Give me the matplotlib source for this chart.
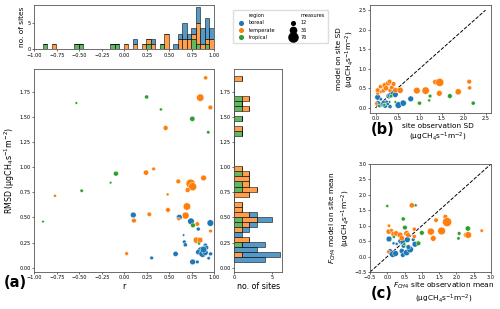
import numpy as np
import matplotlib
matplotlib.use("Agg")
import matplotlib.pyplot as plt
from matplotlib.lines import Line2D

regions = ["boreal", "temperate", "tropical"]
colors = {"boreal": "#1f77b4", "temperate": "#ff7f0e", "tropical": "#2ca02c"}
legend_measures = [12, 36, 76]

# (a) per site correlation r and RMSD
a_r = {
    "boreal": [0.100, 0.611, 0.741, 0.956, 0.822, 0.659, 0.667, 0.678, 0.900, 0.911, 0.859,
               0.822, 0.870, 0.900, 0.959, 0.570, 0.304, 0.937, 0.759, 0.811, 0.880],
    "temperate": [0.904, 0.844, 0.956, 0.459, 0.326, 0.241, 0.881, 0.600, 0.737, 0.759, 0.704,
                  0.481, -0.770, 0.696, 0.485, 0.278, 0.681, 0.107, 0.811, 0.604, 0.959,
                  0.800, 0.841, 0.026],
    "tropical": [0.248, 0.407, 0.756, 0.933, -0.533, -0.093, -0.152, -0.474, -0.904, 0.763, 0.830],
}
a_rmsd = {
    "boreal": [0.524, 0.501, 0.461, 0.444, 0.384, 0.324, 0.257, 0.227, 0.224, 0.200, 0.164,
               0.154, 0.140, 0.150, 0.137, 0.137, 0.097, 0.094, 0.057, 0.057, 0.180],
    "temperate": [1.887, 1.690, 1.593, 1.389, 0.982, 0.945, 0.892, 0.858, 0.835, 0.805, 0.772,
                  0.728, 0.715, 0.608, 0.574, 0.531, 0.518, 0.468, 0.434, 0.484, 0.364,
                  0.274, 0.274, 0.140],
    "tropical": [1.697, 1.573, 1.480, 1.346, 1.637, 0.935, 0.845, 0.765, 0.458, 0.421, 0.240],
}
a_measures = {
    "boreal": [30, 30, 40, 40, 14, 5, 12, 15, 15, 20, 76, 25, 50, 30, 14, 25, 12, 10, 30, 12, 40],
    "temperate": [15, 50, 20, 22, 12, 25, 30, 20, 76, 60, 22, 8, 8, 50, 20, 18, 45, 20, 18, 10,
                  12, 35, 30, 12],
    "tropical": [15, 8, 25, 10, 6, 22, 6, 10, 6, 20, 8],
}

# (b) site SD, observation vs model
b_obs = {
    "boreal": [0.05, 0.05, 0.12, 0.15, 0.22, 0.25, 0.30, 0.34, 0.38, 0.42, 0.45, 0.33, 0.52,
               0.63, 0.80, 0.18, 0.10, 0.28],
    "temperate": [0.02, 0.05, 0.05, 0.11, 0.12, 0.18, 0.22, 0.24, 0.29, 0.33, 0.32, 0.37, 0.41,
                  0.45, 0.56, 0.94, 1.14, 1.36, 1.46, 1.45, 1.88, 2.13, 2.14],
    "tropical": [0.08, 0.20, 0.35, 0.32, 0.45, 1.00, 1.24, 1.22, 1.69, 2.22],
}
b_mod = {
    "boreal": [0.27, 0.11, 0.22, 0.08, 0.05, 0.15, 0.30, 0.32, 0.36, 0.37, 0.34, 0.03, 0.07,
               0.12, 0.23, 0.15, 0.05, 0.10],
    "temperate": [0.11, 0.37, 0.45, 0.54, 0.41, 0.44, 0.57, 0.50, 0.63, 0.45, 0.67, 0.52, 0.61,
                  0.45, 0.45, 0.44, 0.44, 0.66, 0.65, 0.37, 0.41, 0.67, 0.51],
    "tropical": [0.05, 0.08, 0.30, 0.15, 0.15, 0.12, 0.30, 0.19, 0.30, 0.12],
}
b_measures = {
    "boreal": [30, 30, 10, 15, 20, 12, 25, 30, 40, 45, 30, 15, 40, 35, 30, 10, 12, 10],
    "temperate": [10, 12, 20, 15, 10, 20, 35, 25, 25, 15, 20, 20, 20, 25, 35, 40, 50, 25, 60,
                  30, 35, 20, 15],
    "tropical": [8, 8, 10, 6, 6, 15, 12, 8, 20, 15],
}

# (c) site mean, observation vs model
c_obs = {
    "boreal": [0.05, 0.18, 0.27, 0.39, 0.45, 0.58, 0.75, 0.08, 0.16, 0.24, 0.42, 0.45, 0.56,
               0.66, 0.47, 0.61, 0.80],
    "temperate": [0.05, 0.04, 0.12, 0.19, 0.26, 0.37, 0.42, 0.56, 0.60, 0.71, 0.78, 0.78, 0.03,
                  1.26, 1.33, 1.57, 1.41, 1.68, 1.73, 2.27, 2.34, 2.73],
    "tropical": [0.00, 0.82, 0.46, 0.51, 1.00, 0.19, 0.49, 0.90, 2.06, 2.08, 2.33],
}
c_mod = {
    "boreal": [0.57, 0.43, 0.41, 0.50, 0.48, 0.55, 0.55, 0.16, 0.08, 0.10, 0.18, 0.05, 0.13,
               0.23, 0.35, 0.31, 0.40],
    "temperate": [1.00, 0.81, 0.85, 0.73, 0.75, 0.70, 0.60, 0.75, 0.70, 1.66, 0.89, 0.65, 0.16,
                  0.81, 0.59, 0.83, 1.18, 1.29, 1.12, 0.70, 0.70, 0.84],
    "tropical": [1.64, 1.66, 1.22, 0.94, 0.77, 0.64, 0.40, 0.43, 0.59, 0.75, 0.91],
}
c_measures = {
    "boreal": [30, 8, 8, 30, 30, 30, 12, 30, 40, 30, 25, 20, 35, 40, 20, 20, 30],
    "temperate": [10, 25, 12, 30, 25, 30, 25, 30, 20, 25, 15, 15, 10, 45, 30, 55, 18, 20, 76,
                  20, 40, 10],
    "tropical": [8, 8, 15, 20, 20, 8, 8, 20, 10, 12, 25],
}

unit = "(µgCH$_4$s$^{-1}$m$^{-2}$)"
tick_fs = 3.6
label_fs = 5.7


def msize(m):
    return 3 + (np.asarray(m) - 5) / (76 - 5) * 40


def style(ax):
    ax.tick_params(labelsize=tick_fs, length=1.5, width=0.4, pad=1)
    for sp in ax.spines.values():
        sp.set_linewidth(0.6)
        sp.set_color("#555555")


def scatter(ax, xs, ys, ms):
    for reg in regions:
        ax.scatter(xs[reg], ys[reg], s=msize(ms[reg]), color=colors[reg],
                   edgecolor="white", linewidth=0.3, zorder=3)


fig = plt.figure(figsize=(5.0, 3.09), dpi=100)
ax_top = fig.add_axes([0.0686, 0.8405, 0.36, 0.1424])
ax_main = fig.add_axes([0.0686, 0.1207, 0.36, 0.6576])
ax_right = fig.add_axes([0.468, 0.1207, 0.0966, 0.6576], sharey=ax_main)
ax_b = fig.add_axes([0.74, 0.6353, 0.242, 0.3476])
ax_c = fig.add_axes([0.74, 0.1197, 0.242, 0.3495])

# (a) scatter
scatter(ax_main, a_r, a_rmsd, a_measures)
ax_main.set_xlim(-1, 1)
ax_main.set_ylim(-0.04, 1.98)
ax_main.set_yticks(np.arange(0, 1.76, 0.25))
ax_main.set_xticks(np.arange(-1, 1.01, 0.25))
ax_main.set_xlabel("r", fontsize=label_fs, labelpad=1)
ax_main.set_ylabel("RMSD " + unit, fontsize=label_fs, labelpad=2)
style(ax_main)

# marginal histograms, tropical stacked at the bottom
stack = ["tropical", "temperate", "boreal"]
all_r = np.concatenate([a_r[k] for k in regions])
all_rmsd = np.concatenate([a_rmsd[k] for k in regions])
r_bins = np.arange(all_r.min(), all_r.max() + 0.05, 0.05)
e_bins = np.arange(all_rmsd.min(), all_rmsd.max() + 0.05, 0.05)

ax_top.hist([a_r[k] for k in stack], bins=r_bins, stacked=True,
            color=[colors[k] for k in stack], alpha=0.75, edgecolor="black", linewidth=0.5)
ax_top.set_xlim(-1, 1)
ax_top.set_xticks(np.arange(-1, 1.01, 0.25))
ax_top.set_yticks([0, 5])
ax_top.set_ylabel("no. of sites", fontsize=5.3, labelpad=2)
style(ax_top)

ax_right.hist([a_rmsd[k] for k in stack], bins=e_bins, stacked=True, orientation="horizontal",
              color=[colors[k] for k in stack], alpha=0.75, edgecolor="black", linewidth=0.5)
ax_right.set_xticks([0, 5])
ax_right.set_xlabel("no. of sites", fontsize=label_fs, labelpad=1)
ax_right.tick_params(labelleft=True)
style(ax_right)

# legend
handles = [Line2D([], [], linestyle="none", label="region")]
for reg in regions:
    handles.append(Line2D([], [], marker="o", linestyle="none", color=colors[reg],
                          markersize=np.sqrt(msize(12)), label=reg))
handles.append(Line2D([], [], linestyle="none", label="measures"))
for m in legend_measures:
    handles.append(Line2D([], [], marker="o", linestyle="none", color="black",
                          markersize=np.sqrt(msize(m)), label=str(m)))
fig.legend(handles=handles, ncol=2, loc="upper left", bbox_to_anchor=(0.46, 0.975),
           fontsize=tick_fs, frameon=True, handletextpad=0.6, columnspacing=2.5,
           borderpad=0.6, labelspacing=0.45, edgecolor="#dddddd", framealpha=1)

# (b)
ax_b.plot([0, 2.5], [0, 2.5], linestyle="--", color="black", linewidth=0.7, zorder=2)
scatter(ax_b, b_obs, b_mod, b_measures)
ax_b.set_xticks(np.arange(0, 2.6, 0.5))
ax_b.set_yticks(np.arange(0, 2.6, 0.5))
ax_b.set_xlabel("site observation SD\n" + unit, fontsize=5.3, labelpad=1)
ax_b.xaxis.label.set_x(0.56)
ax_b.set_ylabel("model on site SD\n" + unit, fontsize=5.3, labelpad=2)
style(ax_b)

# (c)
ax_c.plot([-0.5, 3], [-0.5, 3], linestyle="--", color="black", linewidth=0.7, zorder=2)
scatter(ax_c, c_obs, c_mod, c_measures)
ax_c.set_xlim(-0.5, 3)
ax_c.set_ylim(-0.5, 3)
ax_c.set_xticks(np.arange(-0.5, 3.01, 0.5))
ax_c.set_yticks(np.arange(-0.5, 3.01, 0.5))
ax_c.set_xlabel("$F_{CH4}$ site observation mean\n" + unit, fontsize=5.3, labelpad=0.5)
ax_c.xaxis.label.set_x(0.61)
ax_c.set_ylabel("$F_{CH4}$ model on site mean\n" + unit, fontsize=5.3, labelpad=2)
style(ax_c)

fig.text(0.008, 0.07, "(a)", fontsize=10.5, fontweight="bold")
fig.text(0.742, 0.565, "(b)", fontsize=10.5, fontweight="bold")
fig.text(0.742, 0.035, "(c)", fontsize=10.5, fontweight="bold")

fig.savefig("out.png", dpi=100)
